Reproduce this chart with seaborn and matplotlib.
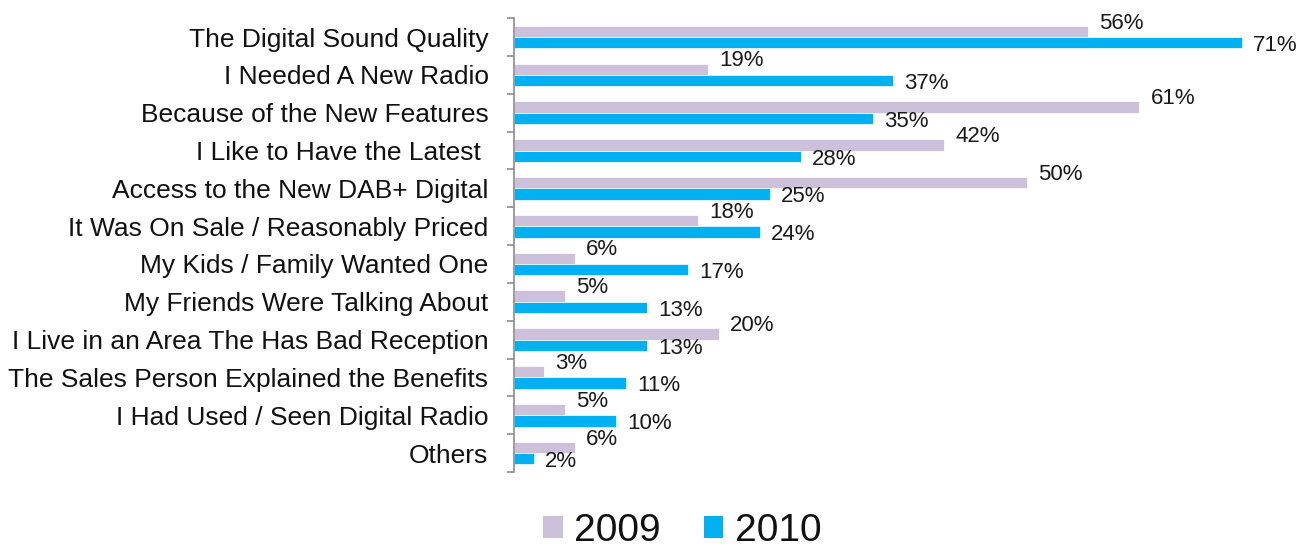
import pandas as pd
import matplotlib.pyplot as plt
import seaborn as sns
from matplotlib.patches import Patch

# Data
reasons = [
    'The Digital Sound Quality',
    'I Needed A New Radio',
    'Because of the New Features',
    'I Like to Have the Latest ',
    'Access to the New DAB+ Digital',
    'It Was On Sale / Reasonably Priced',
    'My Kids / Family Wanted One',
    'My Friends Were Talking About',
    'I Live in an Area The Has Bad Reception',
    'The Sales Person Explained the Benefits',
    'I Had Used / Seen Digital Radio',
    'Others',
]
y2009 = [56, 19, 61, 42, 50, 18, 6, 5, 20, 3, 5, 6]
y2010 = [71, 37, 35, 28, 25, 24, 17, 13, 13, 11, 10, 2]
years = ['2009', '2010']
colors = ['#CCC0DA', '#00B0F0']

df = pd.DataFrame({
    'Reason': reasons * 2,
    'Year': [years[0]] * len(reasons) + [years[1]] * len(reasons),
    'Value': y2009 + y2010,
})

sns.set_style('white')
plt.rcParams['font.family'] = ['Liberation Sans', 'DejaVu Sans']

fig = plt.figure(figsize=(13, 5.52), dpi=100)
ax = fig.add_axes([0.395, 0.145, 0.592, 0.822])

sns.barplot(data=df, y='Reason', x='Value', hue='Year', palette=colors,
            saturation=1, orient='h', width=0.6, ax=ax, legend=False,
            edgecolor='white', linewidth=0.5)

ax.set_xlim(0, 75)
ax.set_ylim(len(reasons) - 0.5, -0.5)
ax.set_xlabel('')
ax.set_ylabel('')
ax.set_xticks([])

# value labels
for cont, year in zip(ax.containers, years):
    for bar in cont:
        v = bar.get_width()
        yc = bar.get_y() + bar.get_height() / 2
        dy = 6 if year == '2009' else -2
        ax.annotate(f'{v:.0f}%', (v, yc), xytext=(8, dy),
                    textcoords='offset points', ha='left', va='center',
                    fontsize=16, color='#1a1a1a')

# spines / ticks
for s in ['top', 'right', 'bottom']:
    ax.spines[s].set_visible(False)
ax.spines['left'].set_color('#8c8c8c')
ax.spines['left'].set_linewidth(1.2)
ax.set_yticks(range(len(reasons)))
ax.set_yticklabels(reasons, fontsize=19, color='#111111')
ax.set_yticks([i - 0.5 for i in range(len(reasons) + 1)], minor=True)
ax.tick_params(axis='y', which='major', length=0, pad=18)
ax.tick_params(axis='y', which='minor', length=5, width=1.2,
               color='#8c8c8c', left=True)

handles = [Patch(facecolor=c, edgecolor='none') for c in colors]
leg = fig.legend(handles, years, loc='center', bbox_to_anchor=(0.525, 0.038),
                 ncol=2, frameon=False, fontsize=28, handlelength=0.5,
                 handleheight=0.5, handletextpad=0.3, columnspacing=1.1)
for t in leg.get_texts():
    t.set_color('#111111')

fig.savefig('out.png', dpi=100)
